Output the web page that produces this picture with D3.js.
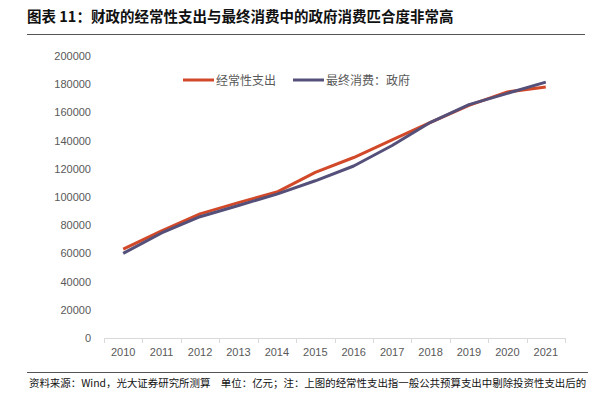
<!DOCTYPE html>
<html>
<head>
<meta charset="utf-8">
<script src="https://cdn.jsdelivr.net/npm/d3@7"></script>
<style>
    body { margin: 0; background: #fff; }
    svg { display: block; font-family: "Noto Sans CJK SC", "Liberation Sans", sans-serif; }
</style>
</head>
<body>
<svg id="chart" width="608" height="395"></svg>
<script>
// data (unit: 亿元)
var years = ["2010", "2011", "2012", "2013", "2014", "2015", "2016", "2017", "2018", "2019", "2020", "2021"];
var recurring = [63000, 76000, 88000, 96000, 103500, 117500, 128000, 140500, 153000, 165000, 174500, 178000];
var govConsumption = [60000, 74500, 86000, 94000, 102000, 111500, 122000, 136500, 153000, 165500, 173500, 181500];
var yTicks = [0, 20000, 40000, 60000, 80000, 100000, 120000, 140000, 160000, 180000, 200000];
var seriesNames = ["经常性支出", "最终消费：政府"];
var colors = ["#d2492a", "#545079"];

var svg = d3.select("#chart");

// title + rule
svg.append("text")
    .attr("x", 27).attr("y", 22)
    .style("font-size", "14.5px").style("font-weight", "bold").attr("fill", "#111")
    .text("图表 11：财政的经常性支出与最终消费中的政府消费匹合度非常高");
svg.append("line")
    .attr("x1", 27).attr("x2", 585).attr("y1", 34.5).attr("y2", 34.5)
    .attr("stroke", "#555").attr("stroke-width", 1);

var margin = { left: 104, right: 608 - 565, top: 56, bottom: 395 - 338 };
var width = 608 - margin.left - margin.right,
    height = 395 - margin.top - margin.bottom;

var x = d3.scaleBand().domain(years).range([0, width]);
var y = d3.scaleLinear().domain([0, 200000]).range([height, 0]);

var g = svg.append("g").attr("transform", "translate(" + margin.left + "," + margin.top + ")");

// y axis (labels only)
var yAxis = d3.axisLeft(y).tickValues(yTicks).tickSize(0).tickPadding(13).tickFormat(d3.format("d"));
g.append("g").call(yAxis)
    .call(function(s) { s.select(".domain").remove(); })
    .selectAll("text")
    .style("font-size", "11px").attr("fill", "#595959")
    .style("font-family", "'Liberation Sans', sans-serif");

// x axis with ticks at band edges
var xAxisG = g.append("g").attr("transform", "translate(0," + height + ")");
xAxisG.append("line")
    .attr("x1", 0).attr("x2", width).attr("y1", 0.5).attr("y2", 0.5)
    .attr("stroke", "#d9d9d9");
var edges = years.map(function(d) { return x(d); }).concat([width]);
xAxisG.selectAll("line.tick")
    .data(edges)
    .enter().append("line")
    .attr("class", "tick")
    .attr("x1", function(d) { return Math.round(d) + 0.5; })
    .attr("x2", function(d) { return Math.round(d) + 0.5; })
    .attr("y1", 0).attr("y2", 5)
    .attr("stroke", "#d9d9d9");
xAxisG.selectAll("text")
    .data(years)
    .enter().append("text")
    .attr("x", function(d) { return x(d) + x.bandwidth() / 2; })
    .attr("y", 18)
    .attr("text-anchor", "middle")
    .style("font-size", "11px").style("font-family", "'Liberation Sans', sans-serif")
    .attr("fill", "#595959")
    .text(function(d) { return d; });

// lines
var line = d3.line()
    .x(function(d, i) { return x(years[i]) + x.bandwidth() / 2; })
    .y(function(d) { return y(d); });

[recurring, govConsumption].forEach(function(series, i) {
    g.append("path")
        .datum(series)
        .attr("fill", "none")
        .attr("stroke", colors[i])
        .attr("stroke-width", 3)
        .attr("stroke-linejoin", "round")
        .attr("d", line);
});

// legend
var legendX = [183, 293];
var legend = svg.append("g");
seriesNames.forEach(function(name, i) {
    legend.append("line")
        .attr("x1", legendX[i]).attr("x2", legendX[i] + 31)
        .attr("y1", 80).attr("y2", 80)
        .attr("stroke", colors[i]).attr("stroke-width", 3);
    legend.append("text")
        .attr("x", legendX[i] + 33).attr("y", 84.5)
        .style("font-size", "12px").attr("fill", "#595959")
        .text(name);
});

// footer
svg.append("line")
    .attr("x1", 27).attr("x2", 588).attr("y1", 372.5).attr("y2", 372.5)
    .attr("stroke", "#555").attr("stroke-width", 1);
svg.append("text")
    .attr("x", 29).attr("y", 387)
    .style("font-size", "10.45px").attr("fill", "#111")
    .text("资料来源：Wind，光大证券研究所测算　单位：亿元；注：上图的经常性支出指一般公共预算支出中剔除投资性支出后的");
</script>
</body>
</html>
